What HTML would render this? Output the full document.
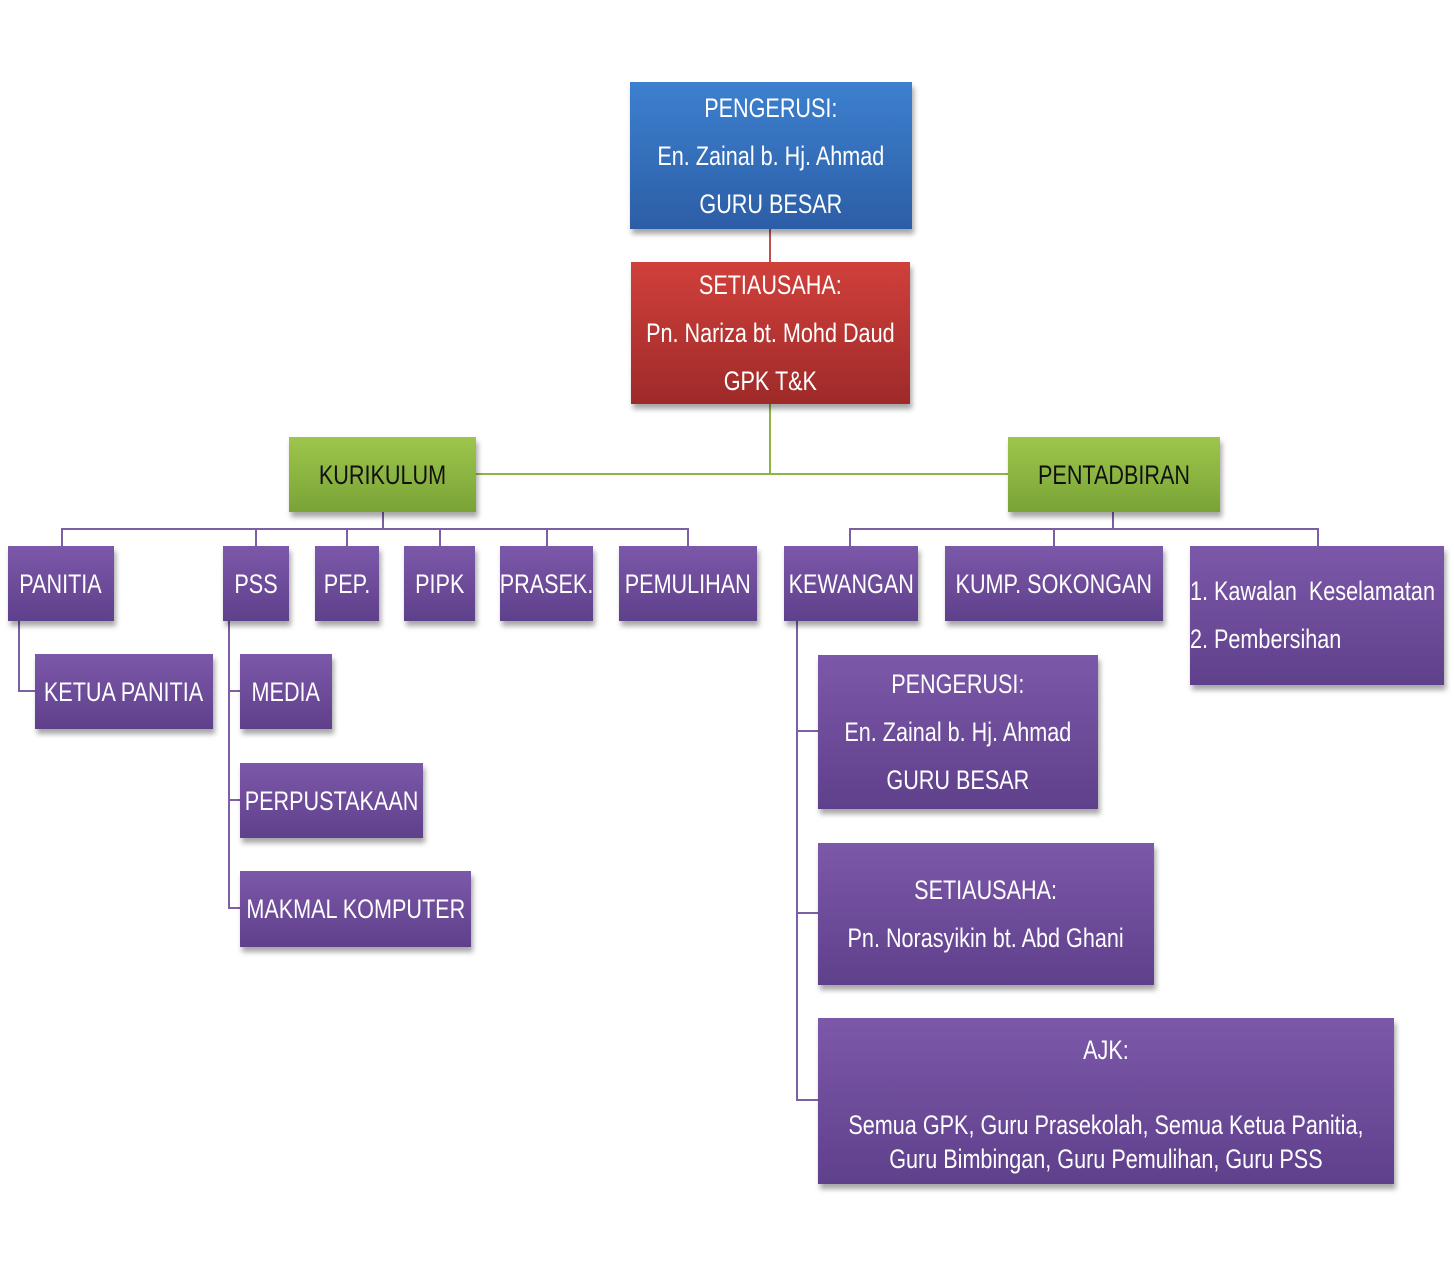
<!DOCTYPE html>
<html><head><meta charset="utf-8"><style>
body{margin:0;width:1454px;height:1263px;background:#fff;position:relative;overflow:hidden;font-family:"Liberation Sans",sans-serif}
.b{position:absolute;display:flex;flex-direction:column;justify-content:center;align-items:center;color:#fff;box-shadow:2px 5px 5px rgba(0,0,0,.35);overflow:visible}
.p{background:linear-gradient(#7c58a9,#5f408b)}
.g{background:linear-gradient(#9ec64c,#79a336);color:#111}
.bl{background:linear-gradient(#3d80cf,#2c5ea6)}
.r{background:linear-gradient(#d0403b,#9e2a29)}
.t{font-size:27px;white-space:nowrap;transform:scaleX(.8);line-height:48px;text-align:center}
.l{position:absolute;background:#7d5fa5}
</style></head><body>
<!-- connectors -->
<div class="l" style="left:769px;top:229px;width:2px;height:33px;background:#c0504d"></div>
<div class="l" style="left:769px;top:404px;width:2px;height:71px;background:#8db541"></div>
<div class="l" style="left:476px;top:473px;width:532px;height:2px;background:#8db541"></div>
<div class="l" style="left:382px;top:512px;width:2px;height:18px"></div>
<div class="l" style="left:61px;top:528px;width:628px;height:2px"></div>
<div class="l" style="left:61px;top:528px;width:2px;height:18px"></div>
<div class="l" style="left:255px;top:528px;width:2px;height:18px"></div>
<div class="l" style="left:346px;top:528px;width:2px;height:18px"></div>
<div class="l" style="left:439px;top:528px;width:2px;height:18px"></div>
<div class="l" style="left:546px;top:528px;width:2px;height:18px"></div>
<div class="l" style="left:687px;top:528px;width:2px;height:18px"></div>
<div class="l" style="left:18px;top:621px;width:2px;height:71px"></div>
<div class="l" style="left:18px;top:690px;width:17px;height:2px"></div>
<div class="l" style="left:228px;top:621px;width:2px;height:288px"></div>
<div class="l" style="left:228px;top:690px;width:12px;height:2px"></div>
<div class="l" style="left:228px;top:799px;width:12px;height:2px"></div>
<div class="l" style="left:228px;top:907px;width:12px;height:2px"></div>
<div class="l" style="left:1112px;top:512px;width:2px;height:18px"></div>
<div class="l" style="left:849px;top:528px;width:470px;height:2px"></div>
<div class="l" style="left:849px;top:528px;width:2px;height:18px"></div>
<div class="l" style="left:1053px;top:528px;width:2px;height:18px"></div>
<div class="l" style="left:1317px;top:528px;width:2px;height:18px"></div>
<div class="l" style="left:796px;top:621px;width:2px;height:480px"></div>
<div class="l" style="left:796px;top:730px;width:22px;height:2px"></div>
<div class="l" style="left:796px;top:912px;width:22px;height:2px"></div>
<div class="l" style="left:796px;top:1099px;width:22px;height:2px"></div>
<!-- boxes -->
<div class="b bl" style="left:630px;top:82px;width:282px;height:147px"><div class="t">PENGERUSI:<br>En. Zainal b. Hj. Ahmad<br>GURU BESAR</div></div>
<div class="b r" style="left:631px;top:262px;width:279px;height:142px"><div class="t">SETIAUSAHA:<br>Pn. Nariza bt. Mohd Daud<br>GPK T&amp;K</div></div>
<div class="b g" style="left:289px;top:437px;width:187px;height:75px"><div class="t">KURIKULUM</div></div>
<div class="b g" style="left:1008px;top:437px;width:212px;height:75px"><div class="t">PENTADBIRAN</div></div>
<div class="b p" style="left:8px;top:546px;width:106px;height:75px"><div class="t">PANITIA</div></div>
<div class="b p" style="left:223px;top:546px;width:66px;height:75px"><div class="t">PSS</div></div>
<div class="b p" style="left:315px;top:546px;width:64px;height:75px"><div class="t">PEP.</div></div>
<div class="b p" style="left:404px;top:546px;width:71px;height:75px"><div class="t">PIPK</div></div>
<div class="b p" style="left:500px;top:546px;width:93px;height:75px"><div class="t">PRASEK.</div></div>
<div class="b p" style="left:619px;top:546px;width:138px;height:75px"><div class="t">PEMULIHAN</div></div>
<div class="b p" style="left:35px;top:654px;width:178px;height:75px"><div class="t">KETUA PANITIA</div></div>
<div class="b p" style="left:240px;top:654px;width:92px;height:75px"><div class="t">MEDIA</div></div>
<div class="b p" style="left:240px;top:763px;width:183px;height:75px"><div class="t">PERPUSTAKAAN</div></div>
<div class="b p" style="left:240px;top:871px;width:231px;height:76px"><div class="t">MAKMAL KOMPUTER</div></div>
<div class="b p" style="left:784px;top:546px;width:134px;height:75px"><div class="t">KEWANGAN</div></div>
<div class="b p" style="left:945px;top:546px;width:218px;height:75px"><div class="t">KUMP. SOKONGAN</div></div>
<div class="b p" style="left:1190px;top:546px;width:254px;height:139px;align-items:flex-start;justify-content:flex-start"><div class="t" style="text-align:left;transform-origin:0 0;margin-top:21px">1. Kawalan&nbsp; Keselamatan<br>2. Pembersihan</div></div>
<div class="b p" style="left:818px;top:655px;width:280px;height:154px"><div class="t">PENGERUSI:<br>En. Zainal b. Hj. Ahmad<br>GURU BESAR</div></div>
<div class="b p" style="left:818px;top:843px;width:336px;height:142px"><div class="t">SETIAUSAHA:<br>Pn. Norasyikin bt. Abd Ghani</div></div>
<div class="b p" style="left:818px;top:1018px;width:576px;height:166px"><div class="t" style="line-height:34px"><span style="line-height:48px">AJK:</span><br><span style="display:inline-block;height:14px"></span><br>Semua GPK, Guru Prasekolah, Semua Ketua Panitia,<br>Guru Bimbingan, Guru Pemulihan, Guru PSS</div></div>
</body></html>
